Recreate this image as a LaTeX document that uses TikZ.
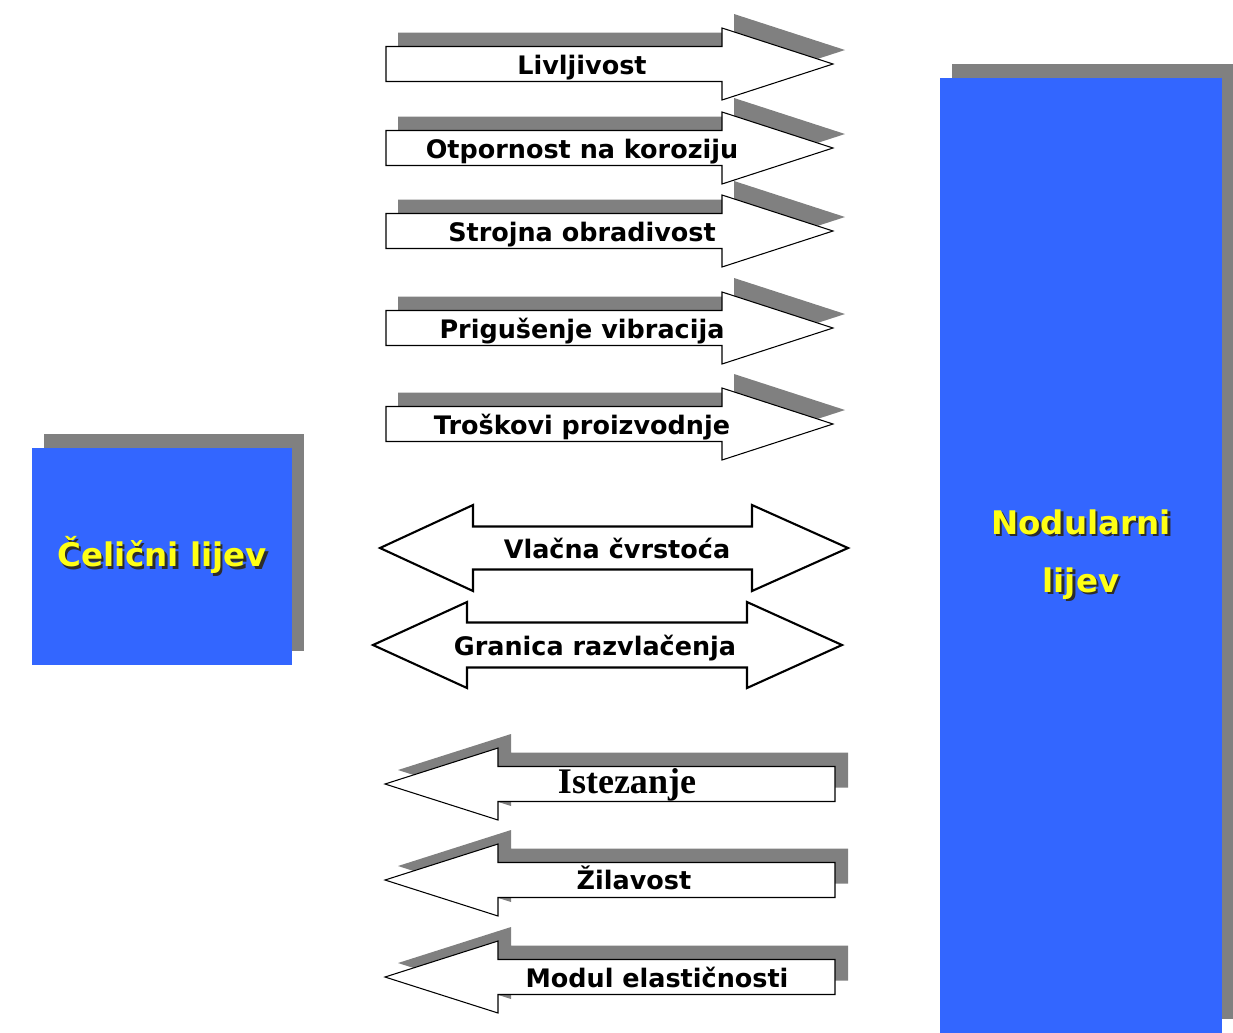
\documentclass[tikz,border=0pt]{standalone}
\usepackage{fontspec}
\setmainfont{DejaVu Sans}
\newfontfamily\timesbold{Liberation Serif}
\usepackage{tikz}
\usetikzlibrary{shadows}
\definecolor{boxblue}{RGB}{51, 102, 255}
\definecolor{shadegray}{RGB}{128, 128, 128}
\definecolor{labelyellow}{RGB}{255, 255, 20}
\definecolor{textshade}{RGB}{45, 45, 45}
\newcommand{\shadetext}[1]{\rlap{\hspace{1.4pt}\raisebox{-1.4pt}{\color{textshade}#1}}#1}

\begin{document}
\begin{tikzpicture}[x=0.02cm, y=-0.02cm,
  arrowshade/.style={fill=shadegray},
  arrowbody/.style={draw=black, fill=white, line width=0.6pt},
  twoway/.style={draw=black, fill=white, line width=1.2pt, line join=miter},
  proptext/.style={font=\fontsize{14.5}{17}\selectfont\bfseries, text=black, inner sep=0pt, anchor=base},
  castbox/.style={fill=boxblue, drop shadow={shadow xshift=0.24cm, shadow yshift=0.28cm, fill=shadegray, opacity=1}, font=\fontsize{18.5}{33}\selectfont\bfseries, text=labelyellow, align=center, inner sep=0pt}]
  \useasboundingbox (0,0) rectangle (1233,1032);

  % Steel cast box
  \node[castbox, minimum width=5.2cm, minimum height=4.34cm] (celik) at (162,556.5) {\shadetext{Čelični lijev}};

  % Nodular cast box
  \node[castbox, minimum width=5.64cm, minimum height=19.1cm] (nodular) at (1081,555.5) {\shadetext{Nodularni}\\\shadetext{lijev}};

  % Properties in favour of nodular cast
  \foreach \c/\name/\txt in {64/livl/Livljivost, 148/otpor/Otpornost na koroziju, 231/stroj/Strojna obradivost, 328/prig/Prigušenje vibracija, 424/tros/Troškovi proizvodnje} {
    \fill[arrowshade, shift={(12,{\c-14})}] (386,-17.5) -- (722,-17.5) -- (722,-36) -- (833,0) -- (722,36) -- (722,17.5) -- (386,17.5) -- cycle;
    \draw[arrowbody, shift={(0,\c)}] (386,-17.5) -- (722,-17.5) -- (722,-36) -- (833,0) -- (722,36) -- (722,17.5) -- (386,17.5) -- cycle;
    \node[proptext] (\name) at (582,{\c+10.5}) {\txt};
  }

  % Comparable properties
  \draw[twoway] (380,548) -- (473,505) -- (473,526.5) -- (752,526.5) -- (752,505) -- (848,548) -- (752,591) -- (752,569.5) -- (473,569.5) -- (473,591) -- cycle;
  \node[proptext] (vlacna) at (617,558) {Vlačna čvrstoća};

  \draw[twoway] (373,645) -- (467,602) -- (467,622.5) -- (747,622.5) -- (747,602) -- (842,645) -- (747,688) -- (747,667.5) -- (467,667.5) -- (467,688) -- cycle;
  \node[proptext] (granica) at (595,655) {Granica razvlačenja};

  % Properties in favour of steel cast
  \foreach \c in {784, 880, 977} {
    \fill[arrowshade, shift={(13,{\c-14})}] (835,-17.5) -- (498,-17.5) -- (498,-36) -- (385,0) -- (498,36) -- (498,17.5) -- (835,17.5) -- cycle;
    \draw[arrowbody, shift={(0,\c)}] (835,-17.5) -- (498,-17.5) -- (498,-36) -- (385,0) -- (498,36) -- (498,17.5) -- (835,17.5) -- cycle;
  }
  \node[proptext, font=\fontsize{20.5}{23}\selectfont\timesbold\bfseries] (istez) at (627,793) {Istezanje};
  \node[proptext] (zilav) at (634,889) {Žilavost};
  \node[proptext] (modul) at (657,987) {Modul elastičnosti};
\end{tikzpicture}
\end{document}
